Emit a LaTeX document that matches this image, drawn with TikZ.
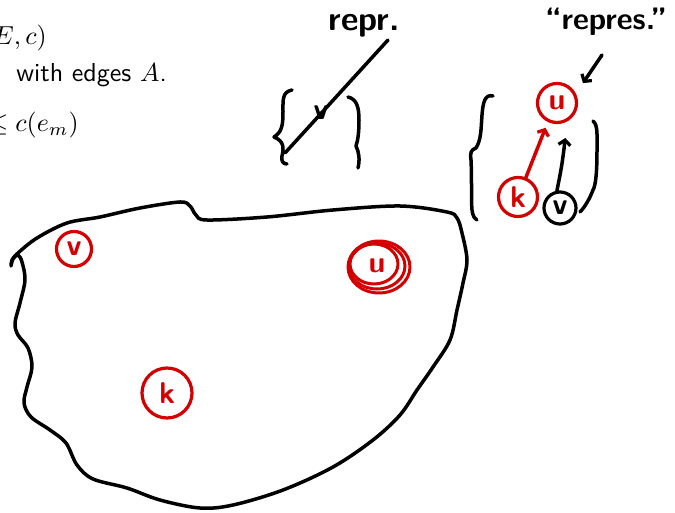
\documentclass[tikz,border=0pt]{standalone}
\usetikzlibrary{arrows.meta,shapes.geometric}
\definecolor{penred}{RGB}{212,0,0}
\tikzset{
  pen/.style={line width=3.5pt, line cap=round, line join=round},
  blackpen/.style={pen, draw=black},
  redpen/.style={pen, draw=penred},
  typed/.style={anchor=base east, inner sep=0pt},
  hand/.style={inner sep=0pt, font=\sffamily\bfseries\fontsize{34}{34}\selectfont},
  letter/.style={inner sep=0pt, font=\sffamily\bfseries\fontsize{30}{30}\selectfont},
  redvert/.style={circle, draw=penred, text=penred, line width=3.2pt, letter},
  blackvert/.style={circle, draw=black, text=black, line width=3.2pt, letter},
  barb/.style={-{Straight Barb[length=5pt,width=12pt,line width=3.2pt]}},
}
\begin{document}
\begin{tikzpicture}[x=1pt,y=-1pt]
\useasboundingbox (0,0) rectangle (675,513);

% slide text, cut by the left edge
\node[typed] (t1) at (47,45) {\scalebox{2.6}{$E,c)$}};
\node[typed] (t2) at (167,82) {\scalebox{2.6}{\sffamily with edges $A$.}};
\node[typed] (t3) at (79,132) {\scalebox{2.6}{$\le c(e_m)$}};

% the set: one closed wobbly outline
\draw[blackpen] plot[smooth, tension=0.55] coordinates {
  (11,266) (13,259) (18,255) (22,262) (25,280) (20,303) (15,323) (18,335)
  (28,348) (32,367) (27,387) (24,403) (31,417) (50,430) (66,443) (77,465)
  (93,479) (127,488) (160,500) (200,508) (233,505) (283,490) (333,467)
  (373,440) (400,415) (417,390) (433,367) (450,340) (457,310) (463,283)
  (467,260) (462,233) (457,218) (447,212) (400,206) (333,210) (267,217)
  (207,220) (196,215) (190,206) (180,202) (140,208) (100,217) (67,223)
  (37,238) (18,253) (12,260) (11,266)};

% vertices inside the set
\node[redvert, minimum size=35pt] (vb) at (74,249) {v};
\node[redvert, minimum size=50pt] (kb) at (167,393) {k};
\node[ellipse, draw=penred, text=penred, line width=3pt, letter,
      minimum width=56pt, minimum height=46pt] (ub) at (377,266) {u};
\draw[redpen, line width=3pt] ([xshift=-3pt,yshift=2pt]ub.center) ellipse [x radius=24, y radius=20];
\draw[redpen, line width=3pt] ([xshift=2pt,yshift=-1pt]ub.center) ellipse [x radius=31, y radius=26];

% the crossed-out set {v}
\node[hand] (repr) at (364,26) {repr.};
\coordinate (sa) at (388,40);
\coordinate (sb) at (285,153);
\draw[blackpen] (sa) -- (sb);
\draw[blackpen] (292,90) .. controls (282,92) and (283,100) .. (283,112)
  .. controls (283,125) and (282,132) .. (274,137)
  .. controls (284,141) and (284,148) .. (282,156)
  .. controls (281,161) and (283,164) .. (287,164);
\node[hand, font=\sffamily\bfseries\fontsize{30}{30}\selectfont] (vv) at (321,113) {v};
\draw[blackpen] (348,97) .. controls (357,99) and (359,108) .. (359,120)
  .. controls (359,132) and (358,140) .. (356,146)
  .. controls (359,152) and (360,160) .. (358,168);

% set of representatives
\node[hand, font=\sffamily\bfseries\fontsize{31}{31}\selectfont] (reps) at (606,22)
  {\textquotedblleft repres.\textquotedblright};
\node[redvert, minimum size=39pt] (ur) at (557,103) {u};
\node[redvert, minimum size=39pt] (kr) at (518,197) {k};
\node[blackvert, minimum size=32pt] (vr) at (560,208) {v};
\coordinate (rs) at (602,55);
\draw[blackpen, barb] (rs) -- ([shift={(11,-5)}]ur.north east);
\draw[redpen, barb, shorten >=4pt] (kr.68) -- ([xshift=-10pt]ur.south);
\draw[blackpen, barb, shorten >=14pt] (vr.100) .. controls (562,165) .. ([xshift=10pt]ur.south);
\draw[blackpen] (493,96) .. controls (485,94) and (483,102) .. (482,115)
  .. controls (481,130) and (481,140) .. (476,148)
  .. controls (471,150) and (470,152) .. (471,160)
  .. controls (472,180) and (471,200) .. (472,210)
  .. controls (473,217) and (475,219) .. (477,220);
\draw[blackpen] (593,121) .. controls (598,125) and (597,135) .. (597,150)
  .. controls (597,170) and (596,185) .. (593,190)
  .. controls (590,198) and (585,207) .. (580,212);
\end{tikzpicture}
\end{document}
